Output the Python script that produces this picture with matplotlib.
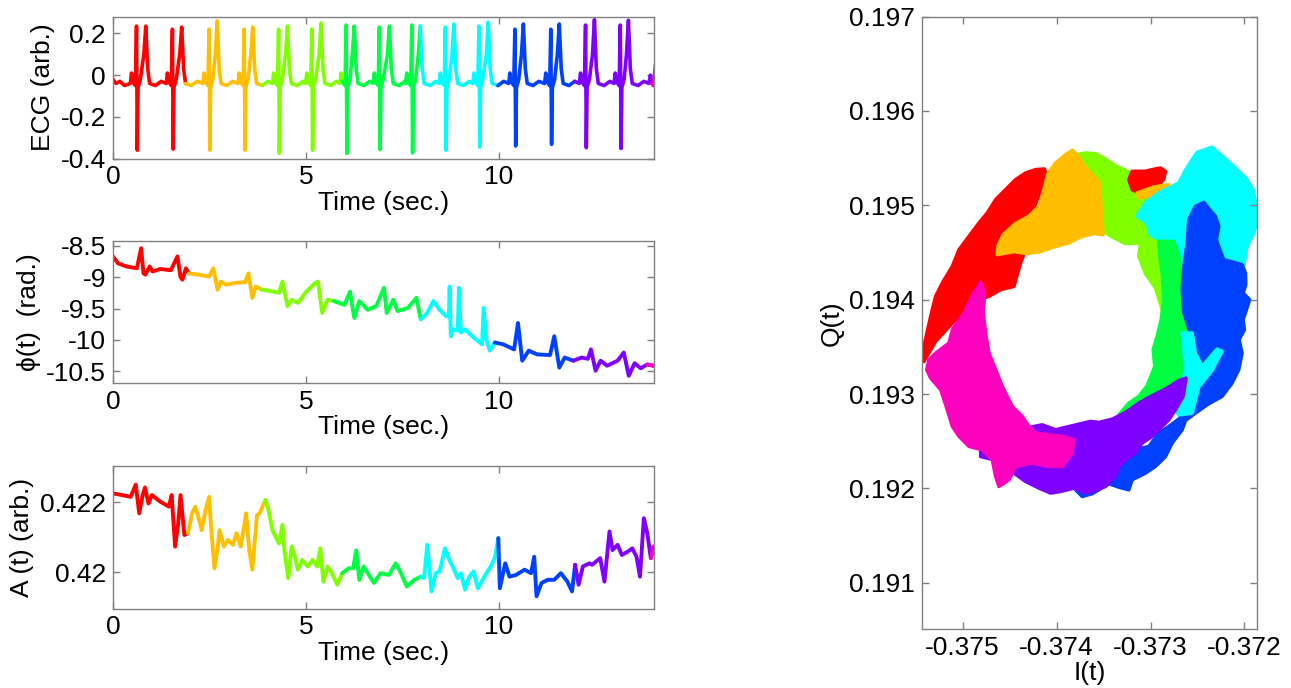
import numpy as np
import matplotlib
matplotlib.use('Agg')
import matplotlib.pyplot as plt

plt.rcParams['font.family'] = ['Liberation Sans', 'DejaVu Sans']
plt.rcParams['axes.unicode_minus'] = False

# hsv(8) colours, one per 2 s block of the recording
colors = ['#ff0000', '#ffbf00', '#80ff00', '#00ff40',
          '#00ffff', '#0040ff', '#8000ff', '#ff00bf']
seg_len = 2.0

# ECG (t, value)
ecg_pts = [
    (0.00, -0.02), (0.08, -0.04), (0.18, -0.03), (0.30, -0.05),
    (0.45, -0.04), (0.48, 0.01), (0.51, -0.03), (0.58, -0.05), (0.61, 0.235), (0.63, -0.36), (0.65, -0.06),
    (0.71, -0.02), (0.80, 0.10), (0.85, 0.235), (0.90, 0.03), (0.95, -0.04), (1.10, -0.05), (1.25, -0.03),
    (1.38, -0.04), (1.41, 0.01), (1.44, -0.03), (1.51, -0.05), (1.54, 0.22), (1.56, -0.355), (1.58, -0.06),
    (1.64, -0.02), (1.73, 0.10), (1.78, 0.23), (1.83, 0.03), (1.88, -0.04), (2.03, -0.05), (2.18, -0.03),
    (2.33, -0.04), (2.36, 0.01), (2.39, -0.03), (2.46, -0.05), (2.49, 0.22), (2.51, -0.36), (2.53, -0.06),
    (2.59, -0.02), (2.65, 0.10), (2.70, 0.26), (2.75, 0.03), (2.80, -0.04), (2.95, -0.05), (3.10, -0.03),
    (3.24, -0.04), (3.27, 0.01), (3.30, -0.03), (3.37, -0.05), (3.40, 0.22), (3.42, -0.36), (3.44, -0.06),
    (3.50, -0.02), (3.57, 0.10), (3.62, 0.23), (3.67, 0.03), (3.72, -0.04), (3.87, -0.05), (4.02, -0.03),
    (4.13, -0.04), (4.16, 0.01), (4.19, -0.03), (4.26, -0.05), (4.29, 0.22), (4.31, -0.375), (4.33, -0.06),
    (4.39, -0.02), (4.47, 0.10), (4.52, 0.235), (4.57, 0.03), (4.62, -0.04), (4.77, -0.05), (4.92, -0.03),
    (4.99, -0.04), (5.02, 0.01), (5.05, -0.03), (5.12, -0.05), (5.15, 0.22), (5.17, -0.36), (5.19, -0.06),
    (5.25, -0.02), (5.34, 0.10), (5.39, 0.25), (5.44, 0.03), (5.49, -0.04), (5.64, -0.05), (5.79, -0.03),
    (5.88, -0.04), (5.91, 0.01), (5.94, -0.03), (6.01, -0.05), (6.04, 0.24), (6.06, -0.375), (6.08, -0.06),
    (6.14, -0.02), (6.20, 0.10), (6.25, 0.235), (6.30, 0.03), (6.35, -0.04), (6.50, -0.05), (6.65, -0.03),
    (6.74, -0.04), (6.77, 0.01), (6.80, -0.03), (6.87, -0.05), (6.90, 0.23), (6.92, -0.357), (6.94, -0.06),
    (7.00, -0.02), (7.11, 0.10), (7.16, 0.235), (7.21, 0.03), (7.26, -0.04), (7.41, -0.05), (7.56, -0.03),
    (7.58, -0.04), (7.61, 0.01), (7.64, -0.03), (7.71, -0.05), (7.74, 0.24), (7.76, -0.373), (7.78, -0.06),
    (7.84, -0.02), (7.91, 0.10), (7.96, 0.235), (8.01, 0.03), (8.06, -0.04), (8.21, -0.05), (8.36, -0.03),
    (8.45, -0.04), (8.48, 0.01), (8.51, -0.03), (8.58, -0.05), (8.61, 0.23), (8.63, -0.36), (8.65, -0.06),
    (8.71, -0.02), (8.78, 0.10), (8.83, 0.245), (8.88, 0.03), (8.93, -0.04), (9.08, -0.05), (9.23, -0.03),
    (9.32, -0.04), (9.35, 0.01), (9.38, -0.03), (9.45, -0.05), (9.48, 0.235), (9.50, -0.345), (9.52, -0.06),
    (9.58, -0.02), (9.67, 0.10), (9.72, 0.254), (9.77, 0.03), (9.82, -0.04), (9.97, -0.05), (10.12, -0.03),
    (10.25, -0.04), (10.28, 0.01), (10.31, -0.03), (10.38, -0.05), (10.41, 0.22), (10.43, -0.34), (10.45, -0.06),
    (10.51, -0.02), (10.58, 0.10), (10.63, 0.245), (10.68, 0.03), (10.73, -0.04), (10.88, -0.05), (11.03, -0.03),
    (11.18, -0.04), (11.21, 0.01), (11.24, -0.03), (11.31, -0.05), (11.34, 0.22), (11.36, -0.332), (11.38, -0.06),
    (11.44, -0.02), (11.51, 0.10), (11.56, 0.245), (11.61, 0.03), (11.66, -0.04), (11.81, -0.05), (11.96, -0.03),
    (12.08, -0.04), (12.11, 0.01), (12.14, -0.03), (12.21, -0.05), (12.24, 0.24), (12.26, -0.348), (12.28, -0.06),
    (12.34, -0.02), (12.42, 0.10), (12.47, 0.266), (12.52, 0.03), (12.57, -0.04), (12.72, -0.05), (12.87, -0.03),
    (12.98, -0.04), (13.01, 0.01), (13.04, -0.03), (13.11, -0.05), (13.14, 0.24), (13.16, -0.352), (13.18, -0.06),
    (13.24, -0.02), (13.30, 0.10), (13.35, 0.263), (13.40, 0.03), (13.45, -0.04), (13.60, -0.05), (13.75, -0.03),
    (13.88, -0.04), (13.92, 0.00), (13.96, -0.04), (14.00, -0.05), (14.05, 0.05),
]

# phase phi(t) in rad.
phi_t = [0.0, 0.13, 0.35, 0.62, 0.73, 0.79, 0.84, 0.95, 1.03, 1.23,
         1.50, 1.67, 1.75, 1.80, 1.89, 1.97, 2.21, 2.49, 2.60, 2.71,
         2.79, 2.93, 3.20, 3.42, 3.51, 3.61, 3.70, 3.86, 4.08, 4.30,
         4.39, 4.52, 4.63, 4.79, 5.01, 5.23, 5.31, 5.42, 5.56, 5.72,
         6.00, 6.14, 6.25, 6.38, 6.60, 6.82, 7.02, 7.09, 7.26, 7.37,
         7.64, 7.86, 7.97, 8.14, 8.30, 8.46, 8.63, 8.70, 8.72, 8.75, 8.82,
         8.93, 8.96, 9.01, 9.12, 9.34, 9.56, 9.60, 9.67, 9.76, 9.89, 10.11,
         10.39, 10.49, 10.60, 10.77, 10.99, 11.32, 11.43, 11.56, 11.70, 11.92,
         12.14, 12.30, 12.38, 12.50, 12.63, 12.80, 13.07, 13.23, 13.36, 13.51,
         13.67, 13.84, 14.0]
phi_v = [-8.67, -8.78, -8.83, -8.86, -8.54, -8.94, -8.96, -8.83, -8.91, -8.87,
         -8.89, -8.67, -9.0, -9.04, -8.86, -8.94, -8.96, -8.99, -8.86, -9.2,
         -9.07, -9.12, -9.09, -9.08, -8.94, -9.33, -9.15, -9.2, -9.22, -9.25,
         -9.07, -9.46, -9.36, -9.41, -9.23, -9.1, -9.07, -9.57, -9.36, -9.38,
         -9.44, -9.23, -9.65, -9.38, -9.52, -9.46, -9.17, -9.57, -9.36, -9.54,
         -9.49, -9.33, -9.67, -9.57, -9.38, -9.52, -9.62, -9.63, -9.15, -9.94, -9.83,
         -9.85, -9.17, -9.88, -9.83, -9.96, -10.07, -9.49, -9.99, -10.17, -10.04, -10.07,
         -10.15, -9.73, -10.33, -10.17, -10.23, -10.24, -9.94, -10.44, -10.28, -10.33,
         -10.28, -10.3, -10.15, -10.49, -10.33, -10.41, -10.33, -10.2, -10.57, -10.37,
         -10.45, -10.39, -10.41]

# amplitude A(t), arb.
amp_t = [0.0, 0.24, 0.46, 0.59, 0.68, 0.77, 0.83, 0.92, 1.01, 1.23,
         1.45, 1.52, 1.61, 1.69, 1.75, 1.85, 1.94, 2.05, 2.13, 2.21,
         2.30, 2.40, 2.49, 2.54, 2.63, 2.71, 2.76, 2.87, 2.98, 3.11,
         3.20, 3.31, 3.45, 3.53, 3.61, 3.66, 3.73, 3.80, 3.95, 4.02,
         4.13, 4.30, 4.39, 4.44, 4.54, 4.63, 4.70, 4.79, 4.90, 5.04,
         5.17, 5.29, 5.37, 5.45, 5.56, 5.67, 5.81, 5.94, 6.11, 6.22,
         6.30, 6.38, 6.49, 6.60, 6.76, 6.93, 7.15, 7.32, 7.46, 7.61,
         7.81, 7.97, 8.06, 8.14, 8.25, 8.36, 8.46, 8.60, 8.71, 8.82,
         8.93, 9.01, 9.12, 9.23, 9.34, 9.45, 9.62, 9.78, 9.89, 9.98,
         10.02, 10.16, 10.27, 10.44, 10.66, 10.83, 10.91, 10.97, 11.10, 11.26,
         11.43, 11.60, 11.77, 11.89, 11.97, 12.06, 12.17, 12.34, 12.41, 12.62,
         12.73, 12.86, 12.94, 13.07, 13.18, 13.34, 13.45, 13.56, 13.65, 13.75,
         13.84, 13.93, 14.0]
amp_v = [0.42226, 0.42221, 0.42216, 0.42251, 0.42169, 0.42221, 0.42243, 0.42197, 0.42221, 0.42202,
         0.42188, 0.42221, 0.42074, 0.42140, 0.42221, 0.42107, 0.42112, 0.42169, 0.42188, 0.42159,
         0.42121, 0.42178, 0.42216, 0.42131, 0.42012, 0.42069, 0.42121, 0.42074, 0.42093, 0.42079,
         0.42112, 0.42074, 0.42169, 0.42064, 0.42008, 0.42074, 0.42164, 0.42169, 0.42207, 0.42183,
         0.42121, 0.42083, 0.42136, 0.42064, 0.41984, 0.42074, 0.42050, 0.42008, 0.42036, 0.42017,
         0.42036, 0.42017, 0.42069, 0.41974, 0.42017, 0.41998, 0.41965, 0.41998, 0.42012, 0.42012,
         0.42063, 0.41979, 0.42017, 0.41998, 0.41970, 0.41998, 0.41993, 0.42026, 0.41998, 0.41960,
         0.41979, 0.41988, 0.41984, 0.42079, 0.41946, 0.41998, 0.42003, 0.42069, 0.42036, 0.42012,
         0.41984, 0.41998, 0.41951, 0.41988, 0.42003, 0.41955, 0.41988, 0.42017, 0.42041, 0.42098,
         0.41955, 0.42026, 0.41988, 0.41993, 0.42008, 0.41998, 0.42045, 0.41932, 0.41970, 0.41979,
         0.41979, 0.41998, 0.41974, 0.41946, 0.42022, 0.41965, 0.42017, 0.42026, 0.42022, 0.42041,
         0.41974, 0.42117, 0.42064, 0.42079, 0.42050, 0.42060, 0.42069, 0.42045, 0.41988, 0.42155,
         0.42112, 0.42041, 0.42074]

# I/Q ring, outline of each coloured cloud (I, Q)
red_ring = [(-0.375429, 0.193346), (-0.375405, 0.193540), (-0.375341, 0.193823), (-0.375288, 0.194036),
            (-0.375217, 0.194177), (-0.375110, 0.194354), (-0.375039, 0.194530), (-0.374933, 0.194672),
            (-0.374827, 0.194813), (-0.374738, 0.194919), (-0.374649, 0.195061), (-0.374543, 0.195167),
            (-0.374437, 0.195273), (-0.374330, 0.195343), (-0.374224, 0.195379), (-0.374128, 0.195386),
            (-0.374100, 0.195273), (-0.374206, 0.195061), (-0.374312, 0.194778), (-0.374330, 0.194530),
            (-0.374383, 0.194389), (-0.374454, 0.194141), (-0.374596, 0.194106), (-0.374720, 0.194036),
            (-0.374827, 0.194000), (-0.374968, 0.193859), (-0.375075, 0.193788), (-0.375288, 0.193558),
            (-0.375412, 0.193346)]
yg_ring = [(-0.373887, 0.195520), (-0.373692, 0.195555), (-0.373586, 0.195548), (-0.373479, 0.195492),
           (-0.373373, 0.195421), (-0.373266, 0.195372), (-0.373196, 0.195336), (-0.373089, 0.195174),
           (-0.372859, 0.195195), (-0.372983, 0.195032), (-0.373018, 0.194855), (-0.372965, 0.194735),
           (-0.372876, 0.194566), (-0.372823, 0.194283), (-0.372759, 0.193788), (-0.372841, 0.193781),
           (-0.372947, 0.194124), (-0.373054, 0.194276), (-0.373125, 0.194460), (-0.373107, 0.194601),
           (-0.373266, 0.194594), (-0.373408, 0.194665), (-0.373515, 0.194735), (-0.373621, 0.194778),
           (-0.373710, 0.194954), (-0.373816, 0.195237)]
red_patch = [(-0.373231, 0.195273), (-0.373196, 0.195361), (-0.373054, 0.195361), (-0.372983, 0.195379),
             (-0.372894, 0.195396), (-0.372841, 0.195361), (-0.372859, 0.195273), (-0.372912, 0.195220),
             (-0.373018, 0.195184), (-0.373125, 0.195131), (-0.373196, 0.195167)]
orange_ring = [(-0.374632, 0.194477), (-0.374625, 0.194566), (-0.374568, 0.194689), (-0.374437, 0.194806),
               (-0.374295, 0.194884), (-0.374188, 0.194990), (-0.374135, 0.195167), (-0.374093, 0.195336),
               (-0.374011, 0.195449), (-0.373905, 0.195538), (-0.373827, 0.195584), (-0.373773, 0.195520),
               (-0.373674, 0.195379), (-0.373550, 0.195255), (-0.373525, 0.194990), (-0.373504, 0.194689),
               (-0.373603, 0.194700), (-0.373745, 0.194665), (-0.373869, 0.194601), (-0.374029, 0.194559),
               (-0.374171, 0.194509), (-0.374312, 0.194488), (-0.374454, 0.194509)]
orange_patch = [(-0.373142, 0.195131), (-0.372965, 0.195195), (-0.372805, 0.195220),
                (-0.372823, 0.195149), (-0.373001, 0.195096), (-0.373125, 0.195078)]
cyan_ring = [(-0.373142, 0.194884), (-0.373054, 0.195025), (-0.372912, 0.195131), (-0.372805, 0.195184),
             (-0.372699, 0.195237), (-0.372628, 0.195372), (-0.372557, 0.195485), (-0.372504, 0.195562),
             (-0.372344, 0.195616), (-0.372202, 0.195492), (-0.372078, 0.195379), (-0.371972, 0.195273),
             (-0.371908, 0.195167), (-0.371873, 0.194990), (-0.371859, 0.194848), (-0.371901, 0.194707),
             (-0.371972, 0.194566), (-0.372007, 0.194354), (-0.372043, 0.194000), (-0.372114, 0.193470),
             (-0.372256, 0.193222), (-0.372468, 0.193010), (-0.372575, 0.192834), (-0.372663, 0.192745),
             (-0.372717, 0.192798), (-0.372699, 0.193010), (-0.372663, 0.193293), (-0.372646, 0.193576),
             (-0.372681, 0.193788), (-0.372663, 0.194106), (-0.372663, 0.194354), (-0.372699, 0.194530),
             (-0.372770, 0.194619), (-0.372912, 0.194636), (-0.373001, 0.194689), (-0.373036, 0.194813)]
green_ring = [(-0.372912, 0.194619), (-0.372752, 0.194619), (-0.372699, 0.194460), (-0.372674, 0.194177),
              (-0.372663, 0.193929), (-0.372628, 0.193717), (-0.372610, 0.193540), (-0.372628, 0.193187),
              (-0.372699, 0.193152), (-0.372841, 0.193081), (-0.372983, 0.192975), (-0.373160, 0.192834),
              (-0.373355, 0.192710), (-0.373337, 0.192780), (-0.373231, 0.192904), (-0.373125, 0.192975),
              (-0.373036, 0.193088), (-0.372955, 0.193293), (-0.372972, 0.193470), (-0.372930, 0.193611),
              (-0.372887, 0.193788), (-0.372859, 0.194000), (-0.372876, 0.194283), (-0.372901, 0.194460)]
blue_ring = [(-0.372593, 0.194848), (-0.372522, 0.194990), (-0.372432, 0.195032), (-0.372369, 0.194954),
             (-0.372309, 0.194884), (-0.372273, 0.194778), (-0.372298, 0.194636), (-0.372262, 0.194530),
             (-0.372220, 0.194424), (-0.372114, 0.194396), (-0.372025, 0.194371), (-0.371989, 0.194283),
             (-0.371986, 0.194159), (-0.372014, 0.194071), (-0.371944, 0.194000), (-0.372014, 0.193788),
             (-0.372000, 0.193682), (-0.372057, 0.193576), (-0.372025, 0.193434), (-0.372061, 0.193258),
             (-0.372132, 0.193116), (-0.372238, 0.192975), (-0.372380, 0.192897), (-0.372522, 0.192798),
             (-0.372628, 0.192720), (-0.372663, 0.192621), (-0.372770, 0.192480), (-0.372841, 0.192337),
             (-0.372947, 0.192233), (-0.373054, 0.192162), (-0.373196, 0.192091), (-0.373231, 0.191985),
             (-0.373337, 0.192013), (-0.373444, 0.192049), (-0.373621, 0.191943), (-0.373727, 0.191914),
             (-0.373798, 0.191985), (-0.373781, 0.192056), (-0.373692, 0.192056), (-0.373586, 0.192091),
             (-0.373444, 0.192233), (-0.373373, 0.192303), (-0.373266, 0.192374), (-0.373160, 0.192409),
             (-0.373018, 0.192445), (-0.372912, 0.192586), (-0.372805, 0.192657), (-0.372663, 0.192763),
             (-0.372575, 0.192834), (-0.372468, 0.193010), (-0.372432, 0.193222), (-0.372504, 0.193434),
             (-0.372575, 0.193647), (-0.372646, 0.193859), (-0.372663, 0.194106), (-0.372646, 0.194354),
             (-0.372610, 0.194601)]
cyan_strip = [(-0.372663, 0.193647), (-0.372628, 0.193258), (-0.372699, 0.192975), (-0.372681, 0.192780),
              (-0.372557, 0.192798), (-0.372486, 0.193074), (-0.372344, 0.193251), (-0.372238, 0.193452),
              (-0.372291, 0.193477), (-0.372451, 0.193293), (-0.372522, 0.193434), (-0.372557, 0.193647)]
violet_ring = [(-0.374809, 0.192445), (-0.374525, 0.192586), (-0.374330, 0.192639), (-0.374153, 0.192674),
               (-0.374011, 0.192621), (-0.373834, 0.192664), (-0.373639, 0.192710), (-0.373550, 0.192699),
               (-0.373408, 0.192734), (-0.373266, 0.192805), (-0.373125, 0.192904), (-0.372983, 0.192982),
               (-0.372841, 0.193053), (-0.372699, 0.193141), (-0.372621, 0.193169), (-0.372653, 0.192975),
               (-0.372734, 0.192834), (-0.372805, 0.192727), (-0.372912, 0.192621), (-0.372983, 0.192551),
               (-0.373089, 0.192480), (-0.373160, 0.192374), (-0.373266, 0.192303), (-0.373337, 0.192233),
               (-0.373373, 0.192126), (-0.373479, 0.192020), (-0.373586, 0.191978), (-0.373692, 0.191950),
               (-0.373816, 0.192003), (-0.373958, 0.191967), (-0.374064, 0.191950), (-0.374188, 0.192003),
               (-0.374330, 0.192073), (-0.374454, 0.192162), (-0.374667, 0.192303), (-0.374809, 0.192337)]
magenta_ring = [(-0.374809, 0.194184), (-0.374766, 0.194071), (-0.374781, 0.193859), (-0.374756, 0.193647),
                (-0.374720, 0.193434), (-0.374649, 0.193258), (-0.374578, 0.193081), (-0.374472, 0.192869),
                (-0.374366, 0.192763), (-0.374295, 0.192657), (-0.374224, 0.192586), (-0.374082, 0.192568),
                (-0.373940, 0.192551), (-0.373816, 0.192515), (-0.373834, 0.192374), (-0.373940, 0.192233),
                (-0.374082, 0.192233), (-0.374259, 0.192268), (-0.374437, 0.192233), (-0.374507, 0.192091),
                (-0.374614, 0.192020), (-0.374649, 0.192126), (-0.374685, 0.192303), (-0.374791, 0.192409),
                (-0.374933, 0.192445), (-0.375039, 0.192551), (-0.375110, 0.192657), (-0.375164, 0.192834),
                (-0.375234, 0.193046), (-0.375341, 0.193169), (-0.375383, 0.193258), (-0.375359, 0.193364),
                (-0.375288, 0.193434), (-0.375146, 0.193540), (-0.375110, 0.193682), (-0.374986, 0.193859),
                (-0.374880, 0.194071)]

# drawing order: later clouds sit on top
ring_layers = [(red_ring, 0), (yg_ring, 2), (red_patch, 0), (orange_ring, 1), (orange_patch, 1),
               (cyan_ring, 4), (green_ring, 3), (blue_ring, 5), (cyan_strip, 4),
               (violet_ring, 6), (magenta_ring, 7)]

time_ticks = [0, 5, 10]
ecg_ticks = [-0.4, -0.2, 0, 0.2]
ecg_labels = ['-0.4', '-0.2', '0', '0.2']
phi_ticks = [-10.5, -10, -9.5, -9, -8.5]
phi_labels = ['-10.5', '-10', '-9.5', '-9', '-8.5']
amp_ticks = [0.420, 0.422]
amp_labels = ['0.42', '0.422']
i_ticks = [-0.375, -0.374, -0.373, -0.372]
i_labels = ['-0.375', '-0.374', '-0.373', '-0.372']
q_ticks = [0.191, 0.192, 0.193, 0.194, 0.195, 0.196, 0.197]
q_labels = ['0.191', '0.192', '0.193', '0.194', '0.195', '0.196', '0.197']

FS = 19


def plot_segments(ax, t, v, lw):
    t = np.asarray(t)
    v = np.asarray(v)
    for k, c in enumerate(colors):
        lo, hi = k * seg_len, (k + 1) * seg_len
        idx = np.where((t >= lo) & (t <= hi))[0]
        if len(idx) == 0:
            continue
        if idx[0] > 0:
            idx = np.r_[idx[0] - 1, idx]
        ax.plot(t[idx], v[idx], color=c, lw=lw, solid_joinstyle='round', solid_capstyle='round')


def style(ax):
    for s in ax.spines.values():
        s.set_color('#808080')
        s.set_linewidth(1.0)
    ax.tick_params(direction='in', length=5, width=1, color='#808080',
                   labelsize=FS, top=True, right=True, pad=5)


fig = plt.figure(figsize=(12.91, 6.88), dpi=100)

ax1 = fig.add_axes([0.0875, 0.7696, 0.4187, 0.2061])
ax2 = fig.add_axes([0.0875, 0.4433, 0.4187, 0.2064])
ax3 = fig.add_axes([0.0875, 0.1155, 0.4187, 0.2071])
ax4 = fig.add_axes([0.7144, 0.0858, 0.2590, 0.8900])

ecg_t = [p[0] for p in ecg_pts]
ecg_v = [p[1] for p in ecg_pts]
plot_segments(ax1, ecg_t, ecg_v, 2.6)
ax1.set_ylim(-0.4, 0.28)
ax1.set_yticks(ecg_ticks)
ax1.set_yticklabels(ecg_labels)
ax1.set_ylabel('ECG (arb.)', fontsize=FS)

plot_segments(ax2, phi_t, phi_v, 2.8)
ax2.set_ylim(-10.685, -8.425)
ax2.set_yticks(phi_ticks)
ax2.set_yticklabels(phi_labels)
ax2.set_ylabel('\u03d5(t)  (rad.)', fontsize=FS)

plot_segments(ax3, amp_t, amp_v, 2.8)
ax3.set_ylim(0.41897, 0.42304)
ax3.set_yticks(amp_ticks)
ax3.set_yticklabels(amp_labels)
ax3.set_ylabel('A (t) (arb.)', fontsize=FS)

for ax in (ax1, ax2, ax3):
    ax.set_xlim(0, 14)
    ax.set_xticks(time_ticks)
    ax.set_xticklabels([str(x) for x in time_ticks])
    ax.set_xlabel('Time (sec.)', fontsize=FS, labelpad=1)
    style(ax)

for poly, ci in ring_layers:
    xs = [p[0] for p in poly]
    ys = [p[1] for p in poly]
    ax4.fill(xs, ys, facecolor=colors[ci], edgecolor=colors[ci], lw=2.5, joinstyle='round')
ax4.set_xlim(-0.37543, -0.37187)
ax4.set_ylim(0.19051, 0.197)
ax4.set_xticks(i_ticks)
ax4.set_xticklabels(i_labels)
ax4.set_yticks(q_ticks)
ax4.set_yticklabels(q_labels)
ax4.set_xlabel('I(t)', fontsize=FS, labelpad=1)
ax4.set_ylabel('Q(t)', fontsize=FS)
style(ax4)

fig.savefig('out.png', dpi=100)
